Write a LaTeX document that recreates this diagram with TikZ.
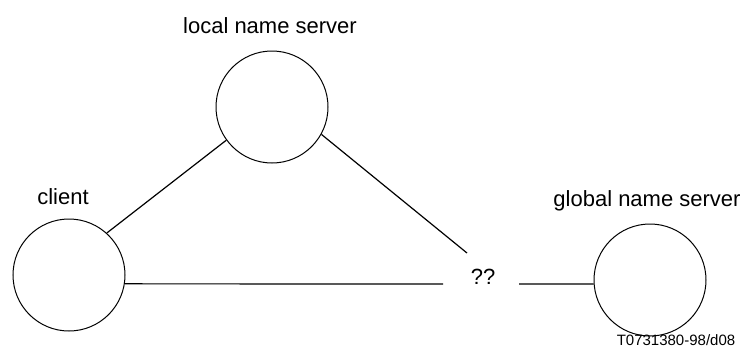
\documentclass[tikz,border=0pt]{standalone}
\usepackage{fontspec}
\setmainfont{Liberation Sans}
\usepackage{tikz}
\tikzstyle{host} = [circle, draw, line width=1pt, minimum size=112pt, inner sep=0pt]
\tikzstyle{line} = [draw, line width=1.2pt]
\tikzstyle{label} = [font=\fontsize{22pt}{26pt}\selectfont, inner sep=0pt]
\tikzstyle{tag} = [font=\fontsize{15pt}{18pt}\selectfont, inner sep=0pt]

\begin{document}
\begin{tikzpicture}[x=1pt, y=-1pt, node distance=81pt]
	\useasboundingbox (0,0) rectangle (741,356);
	
	\node [host] (local) at (272,107) {};
	\node [host] (client) at (69,275) {};
	\node [host] (global) at (650,280) {};
	
	
	\node [label, above of=local, xshift=-2pt] (localname) {local name server};
	\node [label, above of=client, xshift=-6pt, yshift=-3pt] (clientname) {client};
	\node [label, above of=global, xshift=-3pt, yshift=-2pt] (globalname) {global name server};
	
	
	\node [label] (unknown) at (483,277) {??};
	\coordinate (gapleft) at (443,284);
	\coordinate (gapright) at (519,284);
	\coordinate (gaptop) at (467,253);
	
	
	\path [line] (client.48)--(local.216);
	\path [line] (local.-29)--(gaptop);
	\path [line] (client.-9)--(gapleft);
	\path [line] (gapright)--(global.184);
	
	
	\node [tag] (figref) at (676,340) {T0731380-98/d08};
\end{tikzpicture}
\end{document}
